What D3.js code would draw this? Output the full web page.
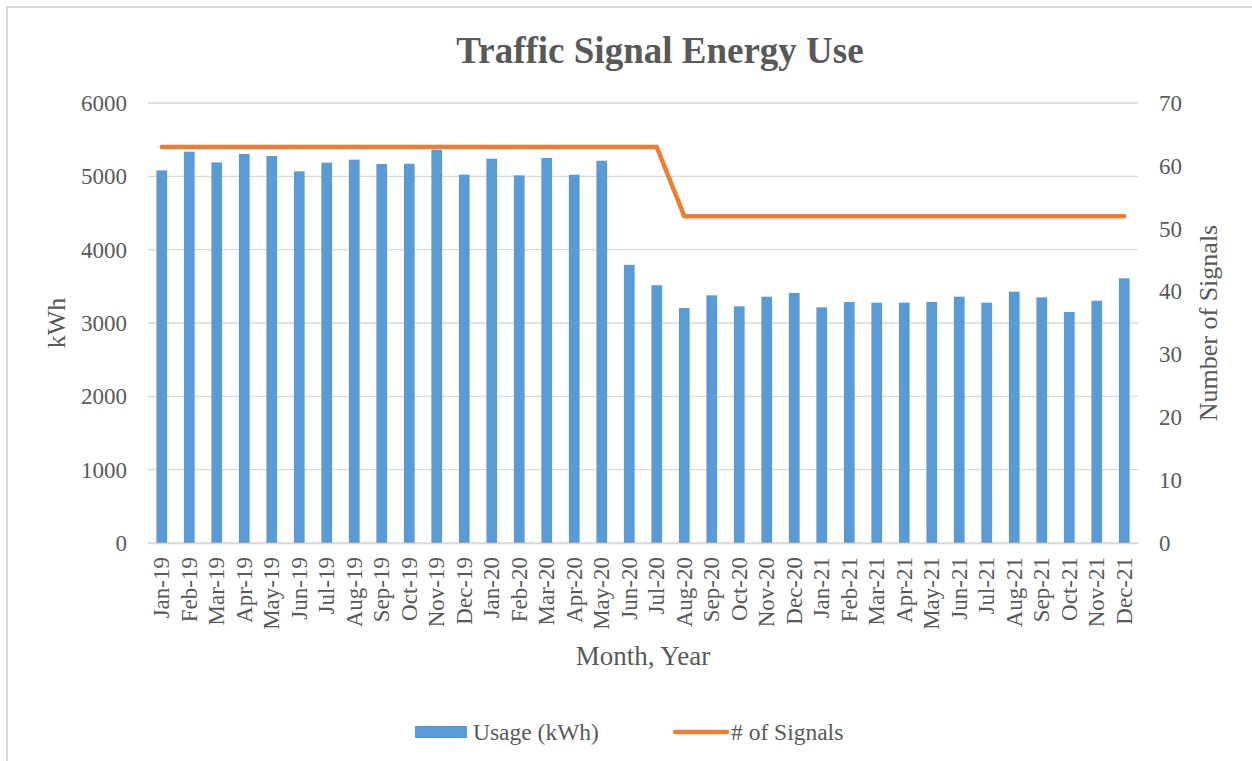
<!DOCTYPE html>
<html lang="en">

<head>
    <meta charset="utf-8" />
    <title>Traffic Signal Energy Use</title>
    <script src="https://d3js.org/d3.v7.min.js"></script>
    <style>
        body {
            margin: 0;
            background: #fff;
        }

        text {
            font-family: "Liberation Serif", "Times New Roman", serif;
            fill: #595959;
        }

        .grid line {
            stroke: #d9d9d9;
            stroke-width: 1.3;
        }

        .bar {
            fill: #5b9bd5;
        }
    </style>
</head>

<body>
    <script>
        // Data
        const months = ["Jan-19", "Feb-19", "Mar-19", "Apr-19", "May-19", "Jun-19", "Jul-19", "Aug-19", "Sep-19",
            "Oct-19", "Nov-19", "Dec-19", "Jan-20", "Feb-20", "Mar-20", "Apr-20", "May-20", "Jun-20", "Jul-20",
            "Aug-20", "Sep-20", "Oct-20", "Nov-20", "Dec-20", "Jan-21", "Feb-21", "Mar-21", "Apr-21", "May-21",
            "Jun-21", "Jul-21", "Aug-21", "Sep-21", "Oct-21", "Nov-21", "Dec-21"];
        const usage = [5081, 5336, 5190, 5305, 5277, 5068, 5186, 5227, 5168,
            5172, 5363, 5022, 5240, 5013, 5250, 5022, 5213, 3793, 3515,
            3204, 3377, 3227, 3359, 3409, 3213, 3286, 3277, 3277, 3286,
            3359, 3277, 3427, 3350, 3150, 3304, 3609];
        const signals = [63, 63, 63, 63, 63, 63, 63, 63, 63,
            63, 63, 63, 63, 63, 63, 63, 63, 63, 63,
            52, 52, 52, 52, 52, 52, 52, 52, 52, 52,
            52, 52, 52, 52, 52, 52, 52];
        const leftTicks = [0, 1000, 2000, 3000, 4000, 5000, 6000];
        const rightTicks = [0, 10, 20, 30, 40, 50, 60, 70];

        const W = 1252, H = 761;
        const margin = { top: 103, bottom: 218, left: 148, right: 114 };
        const width = W - margin.left - margin.right;
        const height = H - margin.top - margin.bottom;

        const svg = d3.select("body").append("svg").attr("width", W).attr("height", H);

        // chart border (only top and left show inside the picture)
        svg.append("rect")
            .attr("x", 7).attr("y", 7)
            .attr("width", W + 20).attr("height", H + 20)
            .attr("fill", "none").attr("stroke", "#d9d9d9").attr("stroke-width", 2);

        const g = svg.append("g").attr("transform", `translate(${margin.left},${margin.top})`);

        // Scales
        const x = d3.scaleBand().domain(months).range([0, width]).paddingInner(0.61).paddingOuter(0.305);
        const yL = d3.scaleLinear().domain([0, 6000]).range([height, 0]);
        const yR = d3.scaleLinear().domain([0, 70]).range([height, 0]);

        // gridlines
        g.append("g").attr("class", "grid")
            .selectAll("line").data(leftTicks).join("line")
            .attr("x1", 0).attr("x2", width)
            .attr("y1", d => yL(d)).attr("y2", d => yL(d));

        // left axis
        const axL = d3.axisLeft(yL).tickValues(leftTicks).tickSize(0).tickPadding(21).tickFormat(d3.format("d"));
        g.append("g").call(axL).call(s => s.select(".domain").remove())
            .selectAll("text").style("font-size", "23px");

        // right axis
        const axR = d3.axisRight(yR).tickValues(rightTicks).tickSize(0).tickPadding(21);
        g.append("g").attr("transform", `translate(${width},0)`).call(axR)
            .call(s => s.select(".domain").remove())
            .selectAll("text").style("font-size", "23px");

        // bars
        g.selectAll("rect.bar").data(usage).join("rect")
            .attr("class", "bar")
            .attr("x", (d, i) => x(months[i]))
            .attr("width", x.bandwidth())
            .attr("y", d => yL(d))
            .attr("height", d => height - yL(d));

        // signals line
        const line = d3.line()
            .x((d, i) => x(months[i]) + x.bandwidth() / 2)
            .y(d => yR(d));
        g.append("path").datum(signals)
            .attr("d", line)
            .attr("fill", "none")
            .attr("stroke", "#ed7d31")
            .attr("stroke-width", 4.5)
            .attr("stroke-linejoin", "round")
            .attr("stroke-linecap", "round");

        // x axis
        const axX = d3.axisBottom(x).tickSize(0).tickPadding(0);
        const gx = g.append("g").attr("transform", `translate(0,${height})`).call(axX);
        gx.select(".domain").attr("stroke", "#d9d9d9").attr("stroke-width", 1.3);
        gx.selectAll("text")
            .style("font-size", "23px")
            .attr("text-anchor", "end")
            .attr("transform", "translate(0,14) rotate(-90)")
            .attr("x", 0).attr("y", 0).attr("dy", "0.33em");

        // title and axis titles
        svg.append("text").attr("x", 660).attr("y", 63)
            .attr("text-anchor", "middle")
            .style("font-size", "37px").style("font-weight", "bold")
            .text("Traffic Signal Energy Use");

        svg.append("text")
            .attr("transform", `translate(65,${margin.top + height / 2}) rotate(-90)`)
            .attr("text-anchor", "middle")
            .style("font-size", "26px")
            .text("kWh");

        svg.append("text")
            .attr("transform", `translate(1217,${margin.top + height / 2}) rotate(-90)`)
            .attr("text-anchor", "middle")
            .style("font-size", "26px")
            .text("Number of Signals");

        svg.append("text").attr("x", margin.left + width / 2).attr("y", 665)
            .attr("text-anchor", "middle")
            .style("font-size", "27px")
            .text("Month, Year");

        // legend
        const lg = svg.append("g");
        lg.append("rect").attr("class", "bar")
            .attr("x", 415).attr("y", 726).attr("width", 52).attr("height", 12);
        lg.append("text").attr("x", 473).attr("y", 740).style("font-size", "23.5px").text("Usage (kWh)");
        lg.append("line")
            .attr("x1", 675).attr("x2", 727).attr("y1", 732).attr("y2", 732)
            .attr("stroke", "#ed7d31").attr("stroke-width", 4.5).attr("stroke-linecap", "round");
        lg.append("text").attr("x", 731).attr("y", 740).style("font-size", "23.5px").text("# of Signals");
    </script>
</body>

</html>
